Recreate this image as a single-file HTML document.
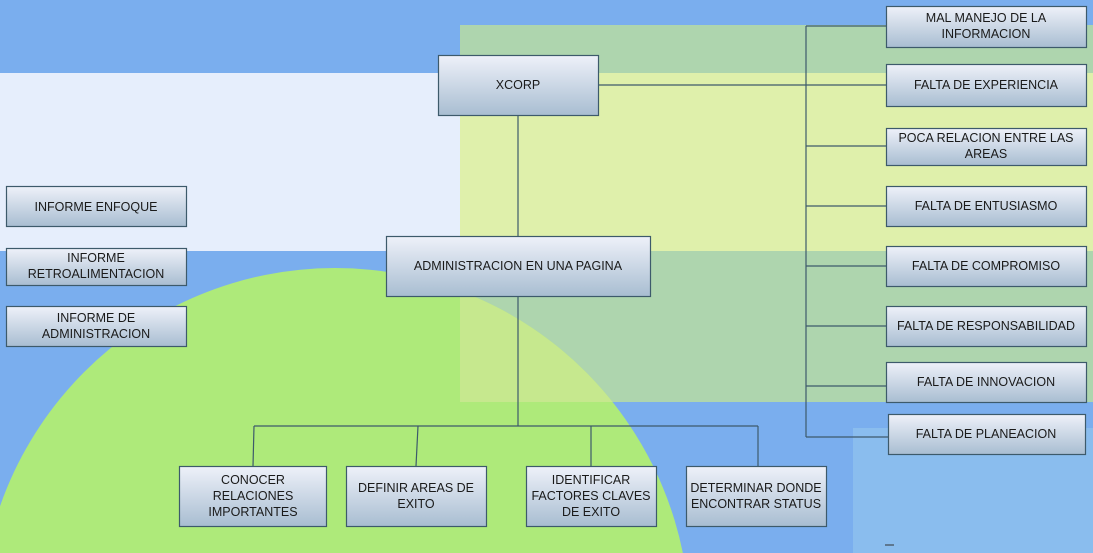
<!DOCTYPE html>
<html><head><meta charset="utf-8"><style>
html,body{margin:0;padding:0;width:1093px;height:553px;overflow:hidden;background:#7aaeee}
svg{display:block}
text{font-family:"Liberation Sans",Arial,sans-serif;font-size:12.5px;fill:#1a1a1a}
</style></head><body>
<svg width="1093" height="553" viewBox="0 0 1093 553" xmlns="http://www.w3.org/2000/svg">
<defs>
<linearGradient id="g" x1="0" y1="0" x2="0" y2="1">
<stop offset="0" stop-color="#eef1f9"/><stop offset="1" stop-color="#a8bdd1"/>
</linearGradient>
<clipPath id="rc"><rect x="460" y="251" width="633" height="151"/></clipPath>
</defs>
<rect x="0" y="0" width="1093" height="553" fill="#7aaeee"/>
<rect x="0" y="73" width="460" height="178" fill="#e6eefc"/>
<rect x="460" y="25" width="633" height="48" fill="#aed5ae"/>
<rect x="460" y="73" width="633" height="178" fill="#dff0ab"/>
<rect x="460" y="251" width="633" height="151" fill="#aed5ae"/>
<rect x="853" y="428" width="240" height="125" fill="#8abdee"/>
<ellipse cx="335" cy="624" rx="355" ry="356" fill="#aeea7a"/>
<ellipse cx="335" cy="624" rx="355" ry="356" fill="#c6e88e" clip-path="url(#rc)"/>
<line x1="885" y1="545" x2="894" y2="545" stroke="#333" stroke-width="1"/>
<g stroke="#3d5a6b" stroke-width="1.2" fill="none">
<line x1="806" y1="26" x2="806" y2="437"/>
<line x1="806" y1="26" x2="886" y2="26"/>
<line x1="598" y1="85" x2="886" y2="85"/>
<line x1="806" y1="146" x2="886" y2="146"/>
<line x1="806" y1="206" x2="886" y2="206"/>
<line x1="806" y1="266" x2="886" y2="266"/>
<line x1="806" y1="326" x2="886" y2="326"/>
<line x1="806" y1="386" x2="886" y2="386"/>
<line x1="806" y1="437" x2="888" y2="437"/>
<line x1="518" y1="115" x2="518" y2="236"/>
<line x1="518" y1="296" x2="518" y2="426"/>
<line x1="254" y1="426" x2="758" y2="426"/>
<line x1="254" y1="426" x2="253" y2="466"/>
<line x1="418" y1="426" x2="416" y2="466"/>
<line x1="591" y1="426" x2="591" y2="466"/>
<line x1="758" y1="426" x2="758" y2="466"/>
</g>
<g fill="url(#g)" stroke="#3d5a6b" stroke-width="1.2">
<rect x="438.5" y="55.5" width="160" height="60"/>
<rect x="386.5" y="236.5" width="264" height="60"/>
<rect x="6.5" y="186.5" width="180" height="40"/>
<rect x="6.5" y="248.5" width="180" height="37"/>
<rect x="6.5" y="306.5" width="180" height="40"/>
<rect x="179.5" y="466.5" width="147" height="60"/>
<rect x="346.5" y="466.5" width="140" height="60"/>
<rect x="526.5" y="466.5" width="130" height="60"/>
<rect x="686.5" y="466.5" width="140" height="60"/>
<rect x="886.5" y="6.5" width="200" height="41"/>
<rect x="886.5" y="64.5" width="200" height="42"/>
<rect x="886.5" y="128.5" width="200" height="37"/>
<rect x="886.5" y="186.5" width="200" height="40"/>
<rect x="886.5" y="246.5" width="200" height="40"/>
<rect x="886.5" y="306.5" width="200" height="40"/>
<rect x="886.5" y="362.5" width="200" height="40"/>
<rect x="888.5" y="414.5" width="197" height="40"/>
</g>
<g text-anchor="middle">
<text x="518" y="89">XCORP</text>
<text x="518" y="270">ADMINISTRACION EN UNA PAGINA</text>
<text x="96" y="211">INFORME ENFOQUE</text>
<text x="96" y="262">INFORME</text><text x="96" y="278">RETROALIMENTACION</text>
<text x="96" y="322">INFORME DE</text><text x="96" y="338">ADMINISTRACION</text>
<text x="253" y="484">CONOCER</text><text x="253" y="500">RELACIONES</text><text x="253" y="516">IMPORTANTES</text>
<text x="416" y="492">DEFINIR AREAS DE</text><text x="416" y="508">EXITO</text>
<text x="591" y="484">IDENTIFICAR</text><text x="591" y="500">FACTORES CLAVES</text><text x="591" y="516">DE EXITO</text>
<text x="756" y="492">DETERMINAR DONDE</text><text x="756" y="508">ENCONTRAR STATUS</text>
<text x="986" y="22">MAL MANEJO DE LA</text><text x="986" y="38">INFORMACION</text>
<text x="986" y="89">FALTA DE EXPERIENCIA</text>
<text x="986" y="142">POCA RELACION ENTRE LAS</text><text x="986" y="158">AREAS</text>
<text x="986" y="210">FALTA DE ENTUSIASMO</text>
<text x="986" y="270">FALTA DE COMPROMISO</text>
<text x="986" y="330">FALTA DE RESPONSABILIDAD</text>
<text x="986" y="386">FALTA DE INNOVACION</text>
<text x="986" y="438">FALTA DE PLANEACION</text>
</g>
</svg>
</body></html>
